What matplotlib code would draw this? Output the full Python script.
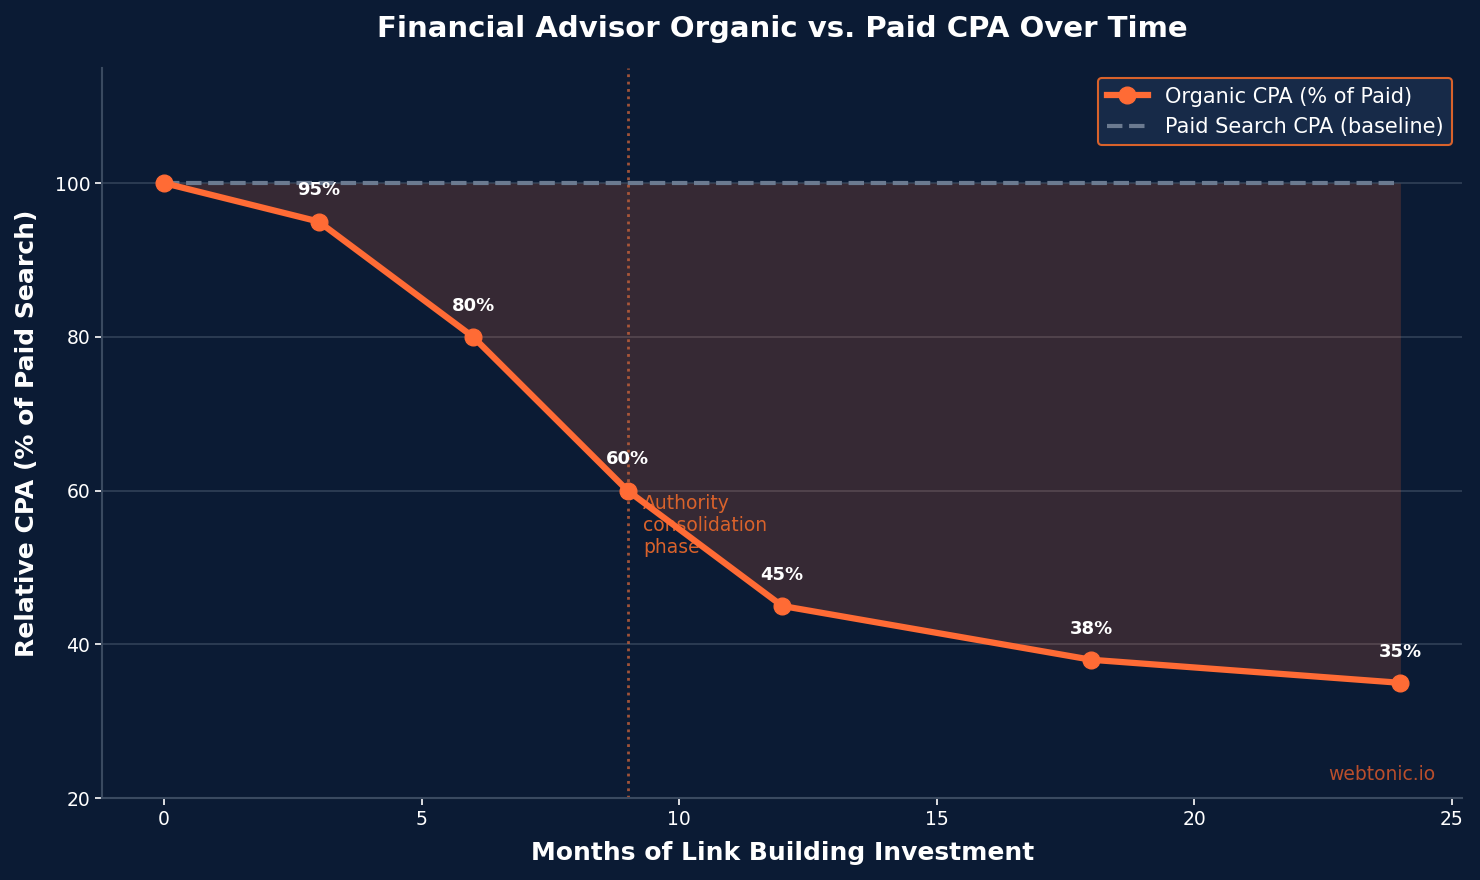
import numpy as np
import matplotlib.pyplot as plt

months = [0, 3, 6, 9, 12, 18, 24]
organic = [100, 95, 80, 60, 45, 38, 35]
paid = [100, 100, 100, 100, 100, 100, 100]

bg = '#0b1b34'
orange = '#ff6b35'

fig, ax = plt.subplots(figsize=(14.8, 8.8), dpi=100)
fig.patch.set_facecolor(bg)
ax.set_facecolor(bg)

ax.fill_between(months, organic, paid, color='#ff6b35', alpha=0.18, linewidth=0)
ax.plot(months, paid, color='#6b7a90', lw=3, ls='--', label='Paid Search CPA (baseline)', zorder=3)
ax.plot(months, organic, color=orange, lw=4.5, marker='o', markersize=12, label='Organic CPA (% of Paid)', zorder=4)

for m, v in zip(months[1:], organic[1:]):
    ax.annotate(f'{v}%', (m, v), xytext=(0, 16), textcoords='offset points',
                ha='center', va='bottom', color='white', fontsize=13, fontweight='bold')

ax.axvline(9, color='#c8623a', ls=':', lw=2, alpha=0.8, zorder=2)
ax.text(9.3, 59.6, 'Authority\nconsolidation\nphase', color='#d9622b', fontsize=13.5,
        va='top', ha='left', linespacing=1.2)
ax.text(0.98, 0.033, 'webtonic.io', transform=ax.transAxes, color='#b94e2c',
        fontsize=13.5, ha='right', va='center')

ax.set_ylim(20, 115)
ax.set_yticks([20, 40, 60, 80, 100])
ax.grid(axis='y', color='#3a4a60', lw=1.2, alpha=0.8)
ax.set_axisbelow(True)
for s in ['top', 'right']:
    ax.spines[s].set_visible(False)
for s in ['left', 'bottom']:
    ax.spines[s].set_color('#3a4a60')
    ax.spines[s].set_linewidth(1.5)
ax.tick_params(colors='white', labelsize=13.5, length=5, width=1.2)

ax.set_xlabel('Months of Link Building Investment', color='white', fontsize=18, fontweight='bold', labelpad=9)
ax.set_ylabel('Relative CPA (% of Paid Search)', color='white', fontsize=18, fontweight='bold', labelpad=11)
ax.set_title('Financial Advisor Organic vs. Paid CPA Over Time', color='white', fontsize=21,
             fontweight='bold', pad=22)

handles, labels = ax.get_legend_handles_labels()
leg = ax.legend(handles[::-1], labels[::-1], loc='upper right', fontsize=15,
                facecolor='#172a48', edgecolor='#d9622b', framealpha=1, borderaxespad=0.5)
for t in leg.get_texts():
    t.set_color('white')
leg.get_frame().set_linewidth(1.5)

plt.subplots_adjust(left=0.069, right=0.988, top=0.923, bottom=0.093)
fig.savefig('out.png', dpi=100, facecolor=bg)
